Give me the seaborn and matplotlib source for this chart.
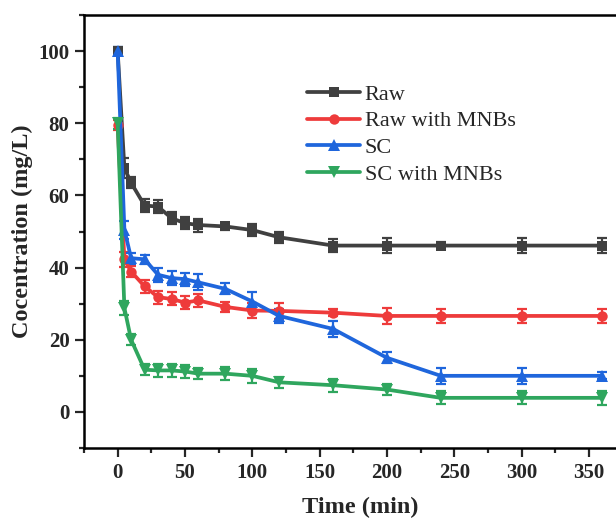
import numpy as np
import pandas as pd
import matplotlib
matplotlib.use("Agg")
import matplotlib.pyplot as plt
import seaborn as sns
from matplotlib.ticker import MultipleLocator

# Sampling times (min)
times = [0, 5, 10, 20, 30, 40, 50, 60, 80, 100, 120, 160, 200, 240, 300, 360]

# Concentration (mg/L) and standard deviations for each treatment
raw = [100, 67.6, 63.5, 57.2, 56.9, 53.7, 52.3, 51.8, 51.4, 50.4, 48.4, 46.1, 46.1, 46.1, 46.1, 46.1]
raw_err = [1.0, 2.8, 1.5, 1.8, 1.8, 1.6, 1.6, 1.8, 1.0, 1.6, 1.5, 1.8, 2.0, 1.0, 2.0, 2.0]

raw_mnb = [79.5, 42.3, 38.9, 34.8, 31.8, 31.3, 30.3, 30.9, 29.1, 28.1, 28.0, 27.5, 26.6, 26.6, 26.6, 26.6]
raw_mnb_err = [1.5, 2.0, 1.5, 1.8, 1.8, 1.8, 1.8, 1.8, 1.5, 2.0, 2.3, 1.0, 2.2, 2.0, 2.0, 2.0]

sc = [100, 50.5, 42.6, 42.3, 38.0, 37.1, 36.8, 35.9, 34.1, 30.6, 26.6, 23.0, 15.0, 10.0, 10.0, 10.0]
sc_err = [1.2, 2.5, 1.5, 1.2, 2.0, 2.0, 1.8, 2.2, 1.5, 2.5, 2.0, 2.2, 1.5, 2.2, 2.2, 1.0]

sc_mnb = [80, 28.8, 20.0, 11.7, 11.5, 11.5, 11.2, 10.6, 10.6, 10.0, 8.2, 7.4, 6.2, 3.9, 3.9, 3.9]
sc_mnb_err = [1.5, 2.0, 1.5, 1.5, 1.8, 1.8, 1.8, 1.5, 1.8, 2.0, 1.5, 1.8, 1.5, 1.8, 1.8, 2.0]

series_names = ["Raw", "Raw with MNBs", "SC", "SC with MNBs"]
series_vals = [raw, raw_mnb, sc, sc_mnb]
series_errs = [raw_err, raw_mnb_err, sc_err, sc_mnb_err]
colors = ["#404040", "#EE3B3B", "#1F66DC", "#2FA65E"]
markers = ["s", "o", "^", "v"]

df = pd.DataFrame({
    "Time": np.tile(times, len(series_names)),
    "Conc": np.concatenate(series_vals),
    "Err": np.concatenate(series_errs),
    "Series": np.repeat(series_names, len(times)),
})

sns.set_style("ticks")
plt.rcParams["font.family"] = ["Liberation Serif", "DejaVu Serif"]

fig = plt.figure(figsize=(6.16, 5.21), dpi=100)
ax = fig.add_axes([84 / 616, 73 / 521, 552 / 616, 433 / 521])

palette = dict(zip(series_names, colors))
marker_map = dict(zip(series_names, markers))

for name in series_names:
    sub = df[df["Series"] == name]
    ax.errorbar(sub["Time"], sub["Conc"], yerr=sub["Err"], fmt="none",
                ecolor=palette[name], elinewidth=1.6, capsize=3.5,
                capthick=1.6, zorder=2)

sns.lineplot(data=df, x="Time", y="Conc", hue="Series", style="Series",
             hue_order=series_names, style_order=series_names,
             palette=palette, markers=marker_map, dashes=False,
             linewidth=2.7, markersize=7.5, markeredgewidth=0,
             ax=ax, zorder=3)

# triangles read smaller than squares at equal size, so enlarge them
for line in ax.lines:
    if line.get_marker() in ("^", "v"):
        line.set_markersize(9)

ax.set_xlim(-25, 385)
ax.set_ylim(-10, 110)
ax.xaxis.set_major_locator(MultipleLocator(50))
ax.xaxis.set_minor_locator(MultipleLocator(25))
ax.yaxis.set_major_locator(MultipleLocator(20))
ax.yaxis.set_minor_locator(MultipleLocator(10))

for side in ax.spines:
    ax.spines[side].set_linewidth(1.8)
    ax.spines[side].set_color("black")
ax.tick_params(which="major", direction="out", length=6.5, width=1.6,
               labelsize=15, pad=4)
ax.tick_params(which="minor", direction="out", length=3.5, width=1.6)
for lbl in ax.get_xticklabels() + ax.get_yticklabels():
    lbl.set_fontweight("bold")

ax.set_xlabel("Time (min)", fontsize=17.5, fontweight="bold", labelpad=10)
ax.set_ylabel("Cocentration (mg/L)", fontsize=17.5, fontweight="bold", labelpad=4)

handles, labels = ax.get_legend_handles_labels()
leg = ax.legend(handles, labels, loc="upper left",
                bbox_to_anchor=(307 / 616, 1 - 84 / 521),
                bbox_transform=fig.transFigure, frameon=False,
                fontsize=16, handlelength=2.4, handletextpad=0.2,
                labelspacing=0.28, borderpad=0, borderaxespad=0)

fig.savefig("out.png", dpi=100)
